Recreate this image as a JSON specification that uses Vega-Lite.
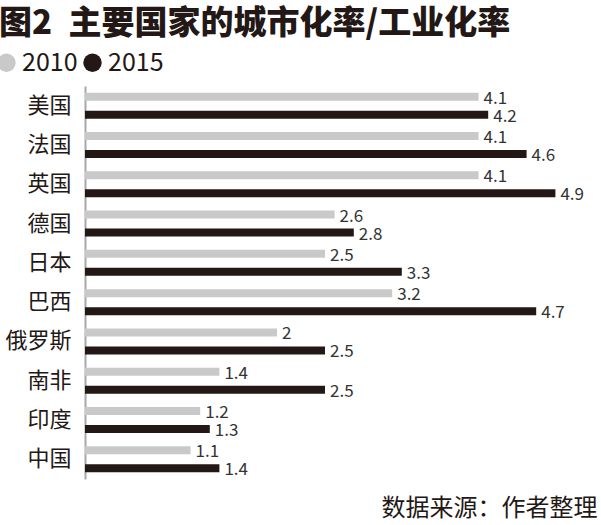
{
  "$schema": "https://vega.github.io/schema/vega-lite/v6.json",
  "width": 480,
  "height": 393,
  "autosize": "none",
  "padding": {"left": 85, "top": 86, "right": 36, "bottom": 46},
  "background": "white",
  "config": {
    "font": "Noto Sans CJK SC",
    "view": {"stroke": null}
  },
  "title": {
    "text": "图2\u2002主要国家的城市化率/工业化率",
    "anchor": "start",
    "frame": "group",
    "fontSize": 33,
    "fontWeight": 900,
    "color": "#231815",
    "dx": -86,
    "dy": 35,
    "offset": 18,
    "baseline": "alphabetic"
  },
  "data": {
    "values": [
      {"country": "美国", "year": "2010", "value": 4.1},
      {"country": "美国", "year": "2015", "value": 4.2},
      {"country": "法国", "year": "2010", "value": 4.1},
      {"country": "法国", "year": "2015", "value": 4.6},
      {"country": "英国", "year": "2010", "value": 4.1},
      {"country": "英国", "year": "2015", "value": 4.9},
      {"country": "德国", "year": "2010", "value": 2.6},
      {"country": "德国", "year": "2015", "value": 2.8},
      {"country": "日本", "year": "2010", "value": 2.5},
      {"country": "日本", "year": "2015", "value": 3.3},
      {"country": "巴西", "year": "2010", "value": 3.2},
      {"country": "巴西", "year": "2015", "value": 4.7},
      {"country": "俄罗斯", "year": "2010", "value": 2},
      {"country": "俄罗斯", "year": "2015", "value": 2.5},
      {"country": "南非", "year": "2010", "value": 1.4},
      {"country": "南非", "year": "2015", "value": 2.5},
      {"country": "印度", "year": "2010", "value": 1.2},
      {"country": "印度", "year": "2015", "value": 1.3},
      {"country": "中国", "year": "2010", "value": 1.1},
      {"country": "中国", "year": "2015", "value": 1.4}
    ]
  },
  "encoding": {
    "y": {
      "field": "country",
      "type": "nominal",
      "sort": null,
      "scale": {"paddingInner": 0, "paddingOuter": 0},
      "axis": {
        "title": null,
        "ticks": false,
        "domainColor": "#a8a8a8",
        "domainWidth": 2,
        "labelFontSize": 22,
        "labelColor": "#231815",
        "labelPadding": 14
      }
    },
    "yOffset": {
      "field": "year",
      "type": "nominal",
      "scale": {"paddingInner": 0.556, "paddingOuter": 0.37}
    },
    "x": {
      "field": "value",
      "type": "quantitative",
      "scale": {"domain": [0, 5], "nice": false},
      "axis": {
        "domain": false,
        "ticks": false,
        "labels": false,
        "grid": false,
        "title": "数据来源：作者整理",
        "titleFontSize": 24,
        "titleFontWeight": "normal",
        "titleColor": "#231815",
        "titleAnchor": "end",
        "titleAlign": "right",
        "titleX": 512,
        "titleY": 36,
        "titleBaseline": "alphabetic"
      }
    }
  },
  "layer": [
    {
      "mark": {"type": "bar", "orient": "horizontal"},
      "encoding": {
        "color": {
          "field": "year",
          "type": "nominal",
          "scale": {"domain": ["2010", "2015"], "range": ["#c9c9c9", "#231815"]},
          "legend": {
            "title": null,
            "orient": "none",
            "direction": "horizontal",
            "legendX": -91,
            "legendY": -36,
            "padding": 0,
            "symbolType": "circle",
            "symbolSize": 340,
            "symbolStrokeWidth": 0,
            "labelFontSize": 25,
            "labelColor": "#231815",
            "labelOffset": 3,
            "columnPadding": 2
          }
        }
      }
    },
    {
      "mark": {"type": "text", "align": "left", "baseline": "middle", "dx": 5, "dy": 2, "fontSize": 17, "color": "#333333"},
      "encoding": {
        "text": {"field": "value", "type": "quantitative"}
      }
    }
  ]
}
